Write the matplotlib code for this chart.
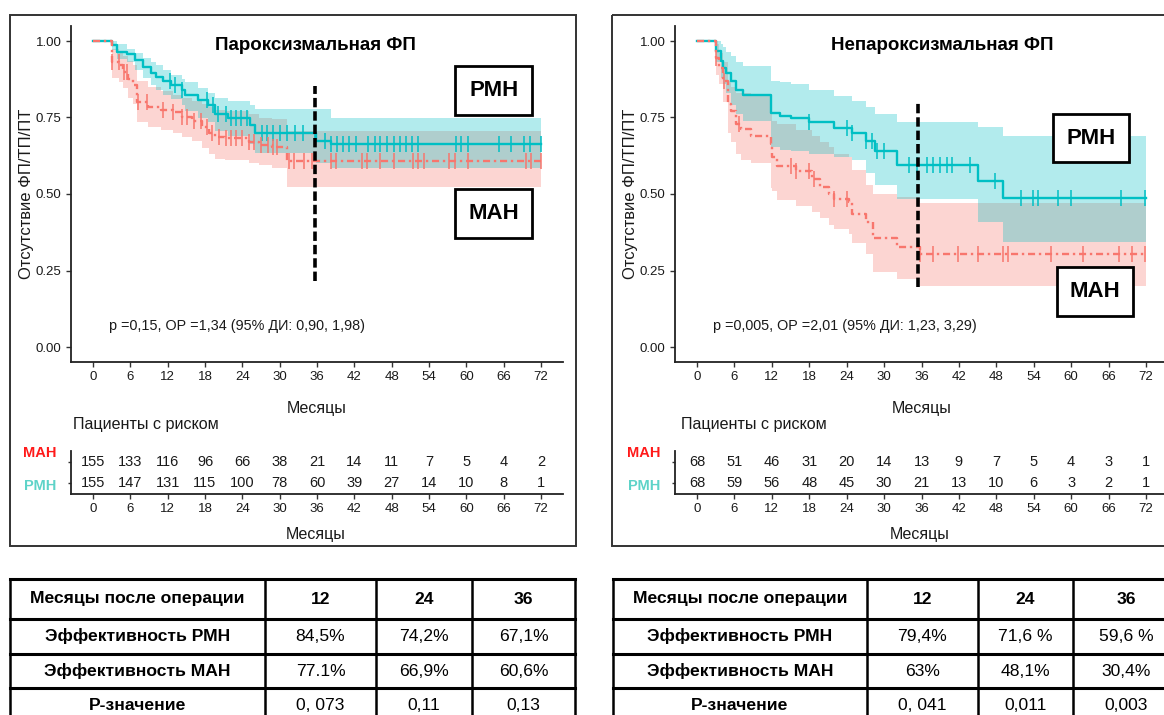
import matplotlib
matplotlib.use("Agg")
import matplotlib.pyplot as plt
import numpy as np
from matplotlib.patches import Rectangle

W, H = 1164, 715

plt.rcParams['font.family'] = ['Liberation Sans', 'DejaVu Sans']

TEAL = '#00BFC4'
RED = '#F8766D'
MAN_LBL = '#FF1A1A'
RMN_LBL = '#5ED3C8'
TXT = '#1a1a1a'

month_ticks = np.arange(0, 73, 6)

# ---------- Paroxysmal AF ----------
par_rmn_t = [0, 3.0, 3.9, 5.4, 6.8, 8.1, 9.4, 10.2, 11.3, 12.6, 14.3, 14.8, 16.9, 18.5, 19.6, 21.7, 25.2, 26.0, 35.9, 38.2, 72]
par_rmn_s = [1.0, 0.987, 0.965, 0.958, 0.938, 0.916, 0.894, 0.883, 0.870, 0.856, 0.840, 0.824, 0.807, 0.791, 0.763, 0.747, 0.725, 0.698, 0.673, 0.662, 0.662]
par_rmn_hi = [1.0, 1.0, 0.99, 0.975, 0.96, 0.945, 0.93, 0.92, 0.905, 0.89, 0.875, 0.865, 0.845, 0.83, 0.815, 0.805, 0.79, 0.777, 0.777, 0.749, 0.749]
par_rmn_lo = [1.0, 0.97, 0.94, 0.93, 0.905, 0.88, 0.855, 0.84, 0.825, 0.81, 0.79, 0.77, 0.75, 0.735, 0.705, 0.69, 0.665, 0.635, 0.60, 0.584, 0.584]
par_rmn_cens = [12.3, 13.1, 14.3, 18.3, 19.3, 20.1, 21.4, 22.2, 23.0, 23.8, 24.8, 27.1, 27.9, 29.0, 30.0,
                31.1, 32.4, 33.8, 35.7, 37.3, 38.2, 39.2, 40.2, 41.2, 42.2, 44.2, 45.3, 46.2, 47.3, 48.3,
                49.3, 50.3, 51.3, 52.2, 58.3, 59.2, 60.3, 65.2, 67.2, 69.2, 70.3, 72.0]

par_man_t = [0, 3.0, 4.2, 4.9, 5.7, 6.5, 7.0, 8.9, 11.0, 12.9, 14.3, 15.9, 17.5, 18.6, 19.6, 21.2, 25.0, 26.6, 28.7, 31.1, 72]
par_man_s = [1.0, 0.932, 0.92, 0.90, 0.875, 0.856, 0.80, 0.783, 0.775, 0.769, 0.752, 0.74, 0.72, 0.70, 0.687, 0.682, 0.671, 0.66, 0.654, 0.609, 0.609]
par_man_hi = [1.0, 0.975, 0.965, 0.95, 0.935, 0.92, 0.87, 0.85, 0.835, 0.825, 0.815, 0.805, 0.795, 0.785, 0.775, 0.77, 0.76, 0.75, 0.745, 0.707, 0.707]
par_man_lo = [1.0, 0.88, 0.865, 0.845, 0.815, 0.795, 0.735, 0.72, 0.71, 0.70, 0.685, 0.672, 0.65, 0.63, 0.615, 0.61, 0.60, 0.595, 0.585, 0.522, 0.522]
par_man_cens = [3.0, 4.1, 5.0, 5.4, 7.3, 8.6, 11.3, 12.9, 14.3, 15.1, 16.2, 17.3, 18.4, 19.1, 20.3, 21.4, 22.2,
                23.0, 24.0, 25.1, 25.9, 27.0, 28.1, 28.9, 29.6, 31.5, 32.3, 33.9, 35.2, 38.2, 39.1, 43.2,
                44.0, 46.2, 48.3, 51.5, 52.3, 53.2, 57.2, 58.1, 60.2, 69.6, 70.4, 72.0]

par_risk_man = [155, 133, 116, 96, 66, 38, 21, 14, 11, 7, 5, 4, 2]
par_risk_rmn = [155, 147, 131, 115, 100, 78, 60, 39, 27, 14, 10, 8, 1]

# ---------- Non-paroxysmal AF ----------
npar_rmn_t = [0, 3.1, 3.9, 4.1, 4.7, 5.4, 6.2, 7.3, 11.9, 13.3, 15.1, 17.9, 22.0, 24.8, 27.1, 28.6, 32.0, 45.0, 49.0, 72]
npar_rmn_s = [1.0, 0.967, 0.935, 0.913, 0.897, 0.87, 0.84, 0.824, 0.766, 0.755, 0.748, 0.734, 0.717, 0.70, 0.674, 0.641, 0.596, 0.543, 0.487, 0.487]
npar_rmn_hi = [1.0, 1.0, 0.99, 0.98, 0.965, 0.95, 0.93, 0.918, 0.87, 0.865, 0.86, 0.84, 0.82, 0.805, 0.785, 0.76, 0.735, 0.718, 0.69, 0.69]
npar_rmn_lo = [1.0, 0.93, 0.88, 0.86, 0.83, 0.79, 0.76, 0.74, 0.655, 0.645, 0.64, 0.63, 0.62, 0.61, 0.57, 0.53, 0.485, 0.41, 0.342, 0.342]
npar_rmn_cens = [17.9, 24.0, 24.8, 27.1, 28.0, 28.9, 30.0, 34.0, 35.2, 36.9, 37.8, 38.9, 40.1, 40.9, 43.8,
                 47.8, 51.9, 53.9, 54.7, 57.9, 59.9, 68.0, 71.9]

npar_man_t = [0, 3.0, 3.6, 4.1, 5.0, 5.4, 6.2, 7.0, 8.7, 11.9, 12.1, 12.8, 15.9, 18.5, 19.7, 21.1, 22.0, 24.3, 24.8, 27.1, 28.3, 32.0, 35.8, 72]
npar_man_s = [1.0, 0.946, 0.913, 0.87, 0.793, 0.772, 0.728, 0.712, 0.69, 0.663, 0.62, 0.592, 0.576, 0.549, 0.522, 0.50, 0.484, 0.473, 0.435, 0.408, 0.357, 0.326, 0.304, 0.304]
npar_man_hi = [1.0, 0.99, 0.96, 0.93, 0.87, 0.85, 0.83, 0.83, 0.82, 0.76, 0.74, 0.73, 0.71, 0.69, 0.67, 0.655, 0.63, 0.62, 0.58, 0.53, 0.50, 0.49, 0.47, 0.47]
npar_man_lo = [1.0, 0.89, 0.86, 0.80, 0.70, 0.67, 0.63, 0.61, 0.60, 0.52, 0.51, 0.48, 0.46, 0.44, 0.42, 0.40, 0.385, 0.37, 0.34, 0.305, 0.245, 0.223, 0.198, 0.198]
npar_man_cens = [3.0, 4.4, 6.7, 15.1, 15.9, 17.9, 18.8, 22.0, 24.0, 35.8, 37.8, 41.8, 45.0, 49.0, 49.8,
                 56.7, 61.9, 67.7, 69.7, 71.9]

npar_risk_man = [68, 51, 46, 31, 20, 14, 13, 9, 7, 5, 4, 3, 1]
npar_risk_rmn = [68, 59, 56, 48, 45, 30, 21, 13, 10, 6, 3, 2, 1]

# ---------- bottom tables ----------
tbl_header = ['Месяцы после операции', '12', '24', '36']
par_rows = [['Эффективность РМН', '84,5%', '74,2%', '67,1%'],
            ['Эффективность МАН', '77.1%', '66,9%', '60,6%'],
            ['Р-значение', '0, 073', '0,11', '0,13']]
npar_rows = [['Эффективность РМН', '79,4%', '71,6 %', '59,6 %'],
             ['Эффективность МАН', '63%', '48,1%', '30,4%'],
             ['Р-значение', '0, 041', '0,011', '0,003']]


def to_fig(x0, y0, x1, y1):
    return [x0 / W, 1 - y1 / H, (x1 - x0) / W, (y1 - y0) / H]


def style(ax):
    for s in ['top', 'right']:
        ax.spines[s].set_visible(False)
    for s in ['left', 'bottom']:
        ax.spines[s].set_linewidth(1.3)
        ax.spines[s].set_color('#222222')
    ax.set_facecolor('none')
    ax.tick_params(length=3.5, width=1, color='#333333', labelcolor=TXT, labelsize=9.5, pad=3)


def surv_at(t, s, x):
    idx = np.searchsorted(t, x, side='right') - 1
    return np.array(s)[idx]


DASHDOT = (0, (3, 1.6, 1, 1.6))


def km_panel(ax, rmn, man, title, title_x, ptext, vline, boxes):
    # red band first, teal band on top -> grey-teal overlap like the original
    for t, s, lo, hi, cens, col in (man + (RED,), rmn + (TEAL,)):
        ax.fill_between(t, lo, hi, step='post', color=col, alpha=0.3, lw=0)
    for t, s, lo, hi, cens, col, ls in (rmn + (TEAL, '-'), man + (RED, DASHDOT)):
        ax.step(t, s, where='post', color=col, lw=1.7, ls=ls)
        ax.plot(cens, surv_at(t, s, cens), ls='none', marker='|', color=col, ms=11, mew=1.1)
    ax.plot([vline[0], vline[0]], [vline[1], vline[2]], color='black', lw=2.6, ls=(0, (2.6, 1.1)))
    ax.set_xlim(-3.6, 75.6)
    ax.set_ylim(-0.05, 1.05)
    ax.set_xticks(month_ticks)
    ax.set_yticks([0, 0.25, 0.5, 0.75, 1.0])
    ax.set_yticklabels(['0.00', '0.25', '0.50', '0.75', '1.00'])
    ax.set_xlabel('Месяцы', fontsize=11.5, color=TXT, labelpad=13)
    ax.set_ylabel('Отсутствие ФП/ТП/ПТ', fontsize=12, color=TXT, labelpad=1)
    ax.text(title_x, 0.985, title, ha='center', va='center', fontsize=13.5, fontweight='bold', color='black')
    ax.text(2.5, 0.07, ptext, ha='left', va='center', fontsize=10.4, color=TXT)
    for lbl, x0, x1, y0, y1 in boxes:
        ax.add_patch(Rectangle((x0, y0), x1 - x0, y1 - y0, fc='white', ec='black', lw=2, zorder=6))
        ax.text((x0 + x1) / 2, (y0 + y1) / 2, lbl, ha='center', va='center', fontsize=16,
                fontweight='bold', color='black', zorder=7)
    style(ax)


def risk_panel(ax, man, rmn):
    for i, m in enumerate(month_ticks):
        ax.text(m, 2, str(man[i]), ha='center', va='center', fontsize=10.5, color=TXT)
        ax.text(m, 1, str(rmn[i]), ha='center', va='center', fontsize=10.5, color=TXT)
    ax.set_xlim(-3.6, 75.6)
    ax.set_ylim(0.45, 2.55)
    ax.set_xticks(month_ticks)
    ax.set_yticks([1, 2])
    ax.set_yticklabels([])
    style(ax)
    ax.tick_params(axis='y', length=2)
    tr = ax.get_yaxis_transform()
    ax.text(-0.028, 2.44, 'МАН', transform=tr, ha='right', va='center', fontsize=10.5,
            fontweight='bold', color=MAN_LBL)
    ax.text(-0.028, 0.85, 'РМН', transform=tr, ha='right', va='center', fontsize=10.5,
            fontweight='bold', color=RMN_LBL)


def draw_table(bg, cols, rows_y, header, rows):
    for x in cols:
        bg.plot([x, x], [rows_y[0], rows_y[-1]], color='black', lw=1.8)
    for y in rows_y:
        bg.plot([cols[0], cols[-1]], [y, y], color='black', lw=2.2)
    for j, txt in enumerate(header):
        bg.text((cols[j] + cols[j + 1]) / 2, (rows_y[0] + rows_y[1]) / 2, txt, ha='center', va='center',
                fontsize=12.6, fontweight='bold', color='black')
    for i, row in enumerate(rows):
        yc = (rows_y[i + 1] + rows_y[i + 2]) / 2
        for j, txt in enumerate(row):
            bg.text((cols[j] + cols[j + 1]) / 2, yc, txt, ha='center', va='center', fontsize=12.6,
                    fontweight='bold' if j == 0 else 'normal', color='black')


fig = plt.figure(figsize=(W / 100, H / 100), dpi=100)

bg = fig.add_axes([0, 0, 1, 1])
bg.set_xlim(0, W)
bg.set_ylim(H, 0)
bg.axis('off')

# panel frames
bg.add_patch(Rectangle((10, 15), 566, 531, fc='none', ec='#333333', lw=1.4))
bg.add_patch(Rectangle((612, 15), 570, 531, fc='none', ec='#333333', lw=1.4))

bg.text(73, 425, 'Пациенты с риском', ha='left', va='center', fontsize=11.6, color=TXT)
bg.text(681, 425, 'Пациенты с риском', ha='left', va='center', fontsize=11.6, color=TXT)
bg.text(316, 534, 'Месяцы', ha='center', va='center', fontsize=11.5, color=TXT)
bg.text(920, 534, 'Месяцы', ha='center', va='center', fontsize=11.5, color=TXT)

draw_table(bg, [10, 265, 376, 472, 575], [579, 619, 654, 688, 724], tbl_header, par_rows)
draw_table(bg, [613, 867, 978, 1073, 1180], [579, 619, 654, 688, 724], tbl_header, npar_rows)

ax1 = fig.add_axes(to_fig(70.6, 25.7, 563.4, 362.3))
km_panel(ax1,
         (par_rmn_t, par_rmn_s, par_rmn_lo, par_rmn_hi, par_rmn_cens),
         (par_man_t, par_man_s, par_man_lo, par_man_hi, par_man_cens),
         'Пароксизмальная ФП', 35.8,
         'p =0,15, OР =1,34 (95% ДИ: 0,90, 1,98)',
         (35.6, 0.217, 0.853),
         [('РМН', 58.2, 70.6, 0.758, 0.918), ('МАН', 58.2, 70.6, 0.356, 0.516)])

ax2 = fig.add_axes(to_fig(674.6, 25.7, 1168.4, 362.3))
km_panel(ax2,
         (npar_rmn_t, npar_rmn_s, npar_rmn_lo, npar_rmn_hi, npar_rmn_cens),
         (npar_man_t, npar_man_s, npar_man_lo, npar_man_hi, npar_man_cens),
         'Непароксизмальная ФП', 39.4,
         'p =0,005, OР =2,01 (95% ДИ: 1,23, 3,29)',
         (35.4, 0.196, 0.799),
         [('РМН', 57.1, 69.3, 0.605, 0.761), ('МАН', 57.7, 69.9, 0.101, 0.261)])

r1 = fig.add_axes(to_fig(70.6, 451, 563.4, 494))
risk_panel(r1, par_risk_man, par_risk_rmn)
r2 = fig.add_axes(to_fig(674.6, 451, 1168.4, 494))
risk_panel(r2, npar_risk_man, npar_risk_rmn)

fig.savefig('out.png', dpi=100)
